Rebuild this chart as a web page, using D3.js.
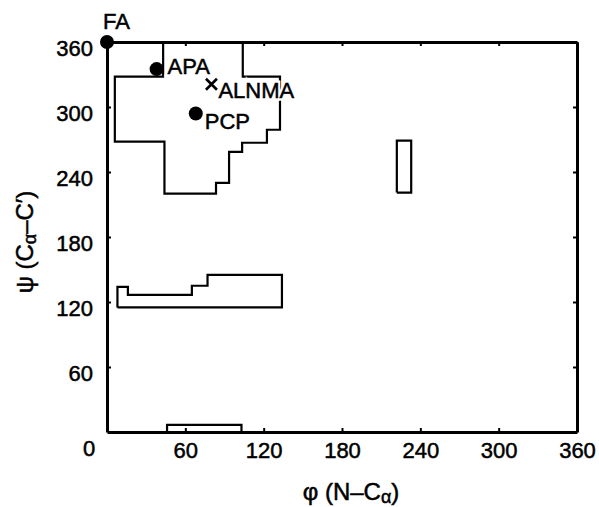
<!DOCTYPE html>
<html>
<head>
<meta charset="utf-8">
<script src="https://cdn.jsdelivr.net/npm/d3@7"></script>
<style>
  body { margin: 0; background: #fff; }
  svg { font-family: "Liberation Sans", Arial, sans-serif; }
  .ink { stroke: #000; stroke-width: 0.5px; }
</style>
</head>
<body>
<svg id="chart"></svg>
<script>
// conformational regions (phi, psi in degrees)
const regionUpper = [[43,360],[43,328],[6,328],[6,268],[44,268],[44,220],[83.5,220],[83.5,230],[93.5,230],[93.5,258.5],[103.5,258.5],[103.5,267],[122.5,267],[122.5,279],[132.5,279],[132.5,328],[104,328],[104,360]];
const regionLower = [[8,115],[8,134],[16,134],[16,126.5],[65,126.5],[65,135],[77,135],[77,145],[134,145],[134,115],[8,115]];
const regionRight = [[222,221],[222,269],[233,269],[233,221],[222,221]];
const regionBottom = [[46,0],[46,6.5],[103,6.5],[103,0]];
const regions = [regionUpper, regionLower, regionRight, regionBottom];

const dotNames = ['FA', 'APA', 'PCP'];
const dotPhi = [0, 38, 68];
const dotPsi = [360, 335, 294];

const crossNames = ['ALNMA'];
const crossPhi = [80];
const crossPsi = [321];

const tickValues = [60, 120, 180, 240, 300, 360];

const width = 599, height = 507;
const mLeft = 107, mRight = 577, mTop = 42, mBottom = 432;

const svg = d3.select('#chart').attr('width', width).attr('height', height);

const x = d3.scaleLinear().domain([0, 360]).range([mLeft, mRight]);
const y = d3.scaleLinear().domain([0, 360]).range([mBottom, mTop]);

const line = d3.line().x(d => x(d[0])).y(d => y(d[1]));

// regions
svg.selectAll('.region')
  .data(regions)
  .enter()
  .append('path')
  .attr('class', 'region')
  .attr('d', line)
  .attr('fill', 'none')
  .attr('stroke', '#000')
  .attr('stroke-width', 2.2);

// axes with inward ticks
function styleAxis(g) {
  g.select('.domain').attr('stroke-width', 3);
  g.selectAll('.tick line').attr('stroke-width', 2);
  g.selectAll('text').attr('font-size', 22).attr('fill', '#000').attr('class', 'ink');
}

svg.append('g')
  .attr('transform', `translate(0,${mBottom})`)
  .call(d3.axisBottom(x).tickValues(tickValues).tickSize(-4).tickSizeOuter(0).tickPadding(10))
  .call(styleAxis);

svg.append('g')
  .attr('transform', `translate(${mLeft},0)`)
  .call(d3.axisLeft(y).tickValues(tickValues).tickSize(-4).tickSizeOuter(0).tickPadding(14))
  .call(styleAxis)
  .call(g => g.selectAll('text').attr('dy', '0.6em'));

svg.append('g')
  .attr('transform', `translate(0,${mTop})`)
  .call(d3.axisTop(x).tickValues(tickValues).tickSize(-4).tickSizeOuter(0).tickFormat(''))
  .call(styleAxis);

svg.append('g')
  .attr('transform', `translate(${mRight},0)`)
  .call(d3.axisRight(y).tickValues(tickValues).tickSize(-4).tickSizeOuter(0).tickFormat(''))
  .call(styleAxis);

// lone origin label
svg.append('text')
  .attr('class', 'ink')
  .attr('x', x(0) - 18)
  .attr('y', y(0) + 24)
  .attr('text-anchor', 'middle')
  .attr('font-size', 22)
  .text('0');

// axis titles
const xt = svg.append('text')
  .attr('class', 'ink')
  .attr('x', 351)
  .attr('y', 500)
  .attr('text-anchor', 'middle')
  .attr('font-size', 24);
xt.append('tspan').text('φ (N\u2013C');
xt.append('tspan').attr('font-size', 18).attr('dy', 3).text('α');
xt.append('tspan').attr('dy', -3).text(')');

const yt = svg.append('text')
  .attr('class', 'ink')
  .attr('transform', 'translate(33,242) rotate(-90)')
  .attr('text-anchor', 'middle')
  .attr('font-size', 24);
yt.append('tspan').text('ψ (C');
yt.append('tspan').attr('font-size', 18).attr('dy', 3).text('α');
yt.append('tspan').attr('dy', -3).text('\u2013C\u2032)');

// points
const labelOffset = { FA: [-4, -13], APA: [11, 5], PCP: [9, 15], ALNMA: [7, 14] };

const dots = dotNames.map((n, i) => ({ name: n, phi: dotPhi[i], psi: dotPsi[i] }));
const crosses = crossNames.map((n, i) => ({ name: n, phi: crossPhi[i], psi: crossPsi[i] }));

svg.selectAll('.cross')
  .data(crosses)
  .enter()
  .append('path')
  .attr('class', 'cross')
  .attr('d', d => {
    const cx = x(d.phi), cy = y(d.psi), s = 5.5;
    return `M${cx - s},${cy - s}L${cx + s},${cy + s}M${cx - s},${cy + s}L${cx + s},${cy - s}`;
  })
  .attr('stroke', '#000')
  .attr('stroke-width', 2.6);

svg.selectAll('.dot')
  .data(dots)
  .enter()
  .append('circle')
  .attr('class', 'dot')
  .attr('cx', d => x(d.phi))
  .attr('cy', d => y(d.psi))
  .attr('r', 7)
  .attr('fill', '#000');

// white halo behind labels so they cut the region outlines
const labels = svg.selectAll('.plabel')
  .data(dots.concat(crosses))
  .enter()
  .append('g')
  .attr('class', 'plabel')
  .attr('transform', d => `translate(${x(d.phi) + labelOffset[d.name][0]},${y(d.psi) + labelOffset[d.name][1]})`);

labels.append('text')
  .attr('font-size', 22)
  .attr('stroke', '#fff')
  .attr('stroke-width', 5)
  .attr('fill', '#fff')
  .text(d => d.name);

labels.append('text')
  .attr('class', 'ink')
  .attr('font-size', 22)
  .text(d => d.name);
</script>
</body>
</html>
